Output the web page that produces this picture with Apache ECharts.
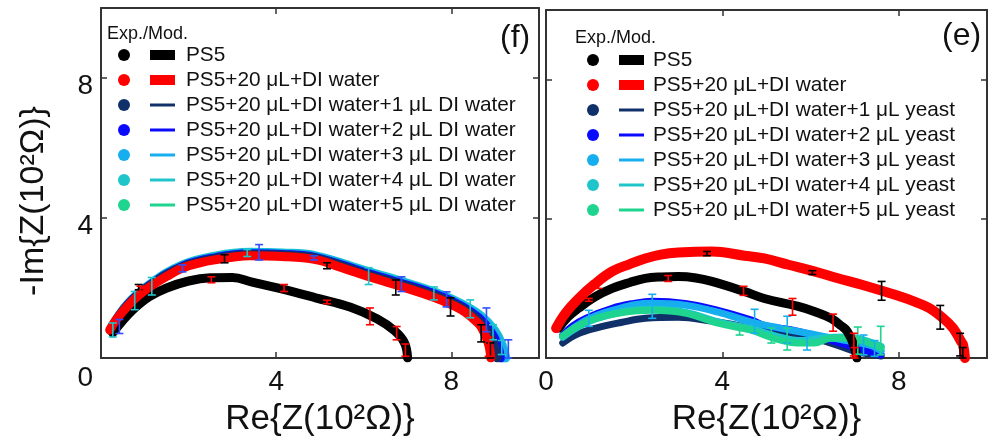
<!DOCTYPE html>
<html>
<head>
<meta charset="utf-8">
<title>Nyquist plots (f) / (e)</title>
<script src="https://cdn.jsdelivr.net/npm/echarts@6/dist/echarts.min.js"></script>
<style>
  html, body { margin: 0; padding: 0; background: #fff; }
  #chart { width: 988px; height: 442px; }
</style>
</head>
<body>
<div id="chart"></div>
<script>
// ── Data (Re, -Im in 10^2 Ohm) ───────────────────────────────────────────────
const xTicks = [0, 4, 8];
const yTicks = [0, 4, 8];

const namesLeft = [
  "PS5",
  "PS5+20 μL+DI water",
  "PS5+20 μL+DI water+1 μL DI water",
  "PS5+20 μL+DI water+2 μL DI water",
  "PS5+20 μL+DI water+3 μL DI water",
  "PS5+20 μL+DI water+4 μL DI water",
  "PS5+20 μL+DI water+5 μL DI water",
];
const namesRight = [
  "PS5",
  "PS5+20 μL+DI water",
  "PS5+20 μL+DI water+1 μL yeast",
  "PS5+20 μL+DI water+2 μL yeast",
  "PS5+20 μL+DI water+3 μL yeast",
  "PS5+20 μL+DI water+4 μL yeast",
  "PS5+20 μL+DI water+5 μL yeast",
];

// panel (f)
const fPS5 = [[0.27,0.72],[0.45,1.0],[0.73,1.38],[1.1,1.75],[1.5,2.0],[2.0,2.2],[2.5,2.29],[3.0,2.3],[3.45,2.17],[4.1,1.98],[4.9,1.72],[5.7,1.45],[6.3,1.12],[6.7,0.78],[6.93,0.43],[7.0,0.0]];
const fDI  = [[0.2,0.8],[0.35,1.1],[0.59,1.46],[0.85,1.78],[1.11,2.03],[1.5,2.33],[1.86,2.57],[2.3,2.73],[2.63,2.81],[3.0,2.88],[3.39,2.92],[4.14,2.9],[4.9,2.81],[5.5,2.58],[6.1,2.33],[6.86,2.04],[7.63,1.72],[8.23,1.38],[8.5,1.12],[8.68,0.89],[8.84,0.43],[8.9,0.0]];
const fDI1 = [[0.21,0.8],[0.6,1.5],[1.12,2.07],[1.86,2.6],[2.63,2.85],[3.39,2.96],[4.14,2.94],[4.9,2.85],[6.1,2.38],[6.86,2.1],[7.63,1.78],[8.23,1.44],[8.6,1.1],[8.85,0.7],[8.98,0.35],[9.05,0.0]];
const fDI2 = [[0.22,0.81],[0.6,1.51],[1.12,2.08],[1.86,2.62],[2.63,2.87],[3.39,2.98],[4.14,2.96],[4.9,2.87],[6.1,2.41],[6.86,2.13],[7.63,1.82],[8.23,1.48],[8.62,1.15],[8.9,0.75],[9.05,0.38],[9.12,0.0]];
const fDI3 = [[0.22,0.82],[0.6,1.52],[1.12,2.1],[1.86,2.64],[2.63,2.89],[3.39,3.0],[4.14,2.98],[4.9,2.9],[6.1,2.44],[6.86,2.16],[7.63,1.85],[8.23,1.52],[8.65,1.18],[8.95,0.78],[9.12,0.4],[9.2,0.0]];
const fDI4 = [[0.22,0.83],[0.6,1.53],[1.12,2.11],[1.86,2.66],[2.63,2.92],[3.39,3.02],[4.14,3.0],[4.9,2.92],[6.1,2.47],[6.86,2.19],[7.63,1.88],[8.23,1.55],[8.68,1.2],[8.98,0.8],[9.15,0.4],[9.24,0.0]];
const fDI5 = [[0.22,0.82],[0.6,1.52],[1.12,2.09],[1.86,2.63],[2.63,2.88],[3.39,2.99],[4.14,2.97],[4.9,2.89],[6.1,2.43],[6.86,2.15],[7.63,1.84],[8.23,1.5],[8.63,1.16],[8.92,0.76],[9.08,0.38],[9.16,0.0]];

// panel (e)
const ePS5 = [[0.29,0.86],[0.5,1.18],[0.74,1.43],[1.1,1.75],[1.5,2.0],[1.9,2.17],[2.25,2.29],[2.6,2.33],[3.0,2.34],[3.4,2.3],[3.76,2.2],[4.5,1.91],[4.95,1.71],[5.7,1.49],[6.1,1.33],[6.46,1.14],[6.7,0.92],[6.83,0.77],[6.98,0.37],[7.05,0.0]];
const eDI  = [[0.23,0.86],[0.45,1.3],[0.74,1.71],[1.1,2.12],[1.5,2.49],[1.9,2.7],[2.25,2.86],[2.6,2.97],[3.0,3.03],[3.76,3.06],[4.5,2.94],[4.95,2.86],[5.5,2.68],[6.08,2.49],[6.6,2.3],[7.2,2.09],[7.95,1.8],[8.4,1.6],[8.7,1.43],[9.0,1.15],[9.23,0.86],[9.4,0.5],[9.46,0.37],[9.5,0.0]];
const eY1  = [[0.38,0.43],[0.7,0.68],[1.13,0.86],[1.7,1.02],[2.25,1.14],[3.0,1.17],[3.76,1.06],[4.2,0.97],[4.66,0.86],[4.95,0.84],[5.7,0.66],[6.1,0.55],[6.46,0.43],[6.98,0.2],[7.3,0.12],[7.6,0.06]];
const eY2  = [[0.38,0.66],[0.6,0.92],[0.9,1.14],[1.5,1.43],[2.0,1.57],[2.4,1.63],[3.15,1.57],[3.9,1.37],[4.66,1.09],[4.95,0.94],[5.7,0.77],[6.3,0.57],[6.83,0.37],[7.2,0.23],[7.6,0.09]];
const eY3  = [[0.38,0.62],[0.9,1.08],[1.5,1.37],[2.4,1.57],[3.15,1.52],[3.9,1.32],[4.66,1.03],[5.3,0.86],[5.9,0.72],[6.5,0.57],[7.0,0.46],[7.4,0.35],[7.6,0.2]];
const eY4  = [[0.38,0.6],[1.13,1.12],[2.4,1.4],[3.15,1.32],[3.9,1.04],[4.66,0.84],[5.3,0.6],[5.8,0.5],[6.3,0.58],[6.8,0.6],[7.2,0.52],[7.6,0.33]];
const eY5  = [[0.38,0.63],[0.7,0.9],[1.13,1.14],[1.7,1.3],[2.4,1.37],[3.15,1.29],[3.9,1.0],[4.66,0.8],[4.95,0.66],[5.3,0.52],[5.7,0.43],[6.08,0.43],[6.46,0.57],[6.83,0.57],[7.2,0.49],[7.6,0.29]];

// error bars: [x, low, high]
const fErrBlack = [[0.86,1.95,2.1],[2.82,2.72,2.95],[5.16,2.55,2.72],[6.73,1.8,2.23],[7.98,1.2,1.72],[8.68,0.46,0.95],[8.89,0.0,0.43]];
const fErrRed   = [[0.9,1.9,2.05],[2.52,2.15,2.32],[4.18,1.9,2.1],[5.16,1.55,1.65],[6.14,0.95,1.43],[6.75,0.52,0.9],[6.95,0.05,0.4],[8.85,0.05,0.6]];
const fErrCyan  = [[0.27,0.6,1.0],[0.77,1.38,1.9],[1.16,1.8,2.3],[3.34,2.9,3.1],[6.11,2.1,2.58],[7.6,1.66,2.03],[8.43,1.15,1.66],[8.95,0.52,0.95],[9.15,0.1,0.5]];
const fErrBlue  = [[0.42,0.7,1.1],[1.86,2.46,2.66],[3.61,2.8,3.24],[4.86,2.8,2.92],[6.86,1.9,2.32],[7.89,1.46,1.89],[8.8,0.75,1.43],[9.3,0.0,0.52]];

const eErrBlack = [[3.65,2.94,3.06],[6.04,2.4,2.51],[7.61,1.66,2.2],[8.94,0.83,1.51],[9.39,0.06,0.71],[9.45,0.0,0.3]];
const eErrRed   = [[0.97,1.63,1.71],[1.19,2.0,2.14],[2.77,2.2,2.37],[4.48,1.8,2.06],[5.59,1.23,1.71],[6.51,0.77,1.26],[6.98,0.06,0.71],[7.0,0.0,0.3]];
const eErrLight = [[0.97,0.91,1.37],[2.41,1.14,1.83],[4.73,0.71,1.4],[5.47,0.43,1.2],[5.92,0.23,0.66],[7.2,0.09,0.66],[7.45,0.05,0.5]];
const eErrGreen = [[4.39,0.66,0.86],[5.11,0.43,0.86],[5.47,0.23,0.86],[7.07,0.11,0.89],[7.59,0.09,0.91]];

// ── Styling ──────────────────────────────────────────────────────────────────
const FONT = "Liberation Sans, Arial, sans-serif";
const C = {
  black: "#000000",
  red: "#ff0000",
  navy: "#10306a",
  blue: "#0a0aff",
  light: "#17aef0",
  cyan: "#1ec6cc",
  green: "#1ed48e",
};
const AXIS = "#333";
const thinIcon = "path://M0,0L25,0L25,3L0,3Z";

const chart = echarts.init(document.getElementById("chart"));

function band(name, data, color, width, idx, z) {
  return {
    name: name,
    type: "line",
    data: data,
    smooth: 0.4,
    showSymbol: false,
    symbol: "none",
    xAxisIndex: idx,
    yAxisIndex: idx,
    color: color,
    lineStyle: { color: color, width: width, cap: "round" },
    z: z,
    silent: true,
  };
}

function errBars(data, color, idx) {
  return {
    type: "custom",
    xAxisIndex: idx,
    yAxisIndex: idx,
    data: data,
    z: 10,
    silent: true,
    encode: { x: 0, y: [1, 2] },
    renderItem: function (params, api) {
      const top = api.coord([api.value(0), api.value(2)]);
      const bot = api.coord([api.value(0), api.value(1)]);
      const w = 4;
      const st = { stroke: color, lineWidth: 1.6 };
      return {
        type: "group",
        children: [
          { type: "line", shape: { x1: top[0], y1: top[1], x2: bot[0], y2: bot[1] }, style: st },
          { type: "line", shape: { x1: top[0] - w, y1: top[1], x2: top[0] + w, y2: top[1] }, style: st },
          { type: "line", shape: { x1: bot[0] - w, y1: bot[1], x2: bot[0] + w, y2: bot[1] }, style: st },
        ],
      };
    },
  };
}

// one side of a panel frame: line + inward ticks at 0, 4, 8
function frameAxis(pos, grid) {
  return {
    type: "value",
    gridIndex: grid,
    position: pos,
    min: 0,
    max: 10,
    interval: 4,
    splitLine: { show: false },
    axisLine: { show: true, onZero: false, lineStyle: { color: AXIS, width: 2 } },
    axisTick: { show: true, inside: true, length: 6, lineStyle: { color: AXIS, width: 1.5 } },
    axisLabel: { show: false },
  };
}

const tickText = (v, hideZero) =>
  xTicks.indexOf(v) < 0 || (hideZero && v === 0) ? "" : String(v);

// bottom x axes
const xBottomLeft = frameAxis("bottom", 0);
xBottomLeft.axisLabel = {
  show: true, fontFamily: FONT, fontSize: 28, color: "#111", margin: 10,
  showMaxLabel: false,
  formatter: (v) => tickText(v, true),
};
xBottomLeft.name = "Re{Z(10²Ω)}";
xBottomLeft.nameLocation = "middle";
xBottomLeft.nameGap = 44;
xBottomLeft.nameTextStyle = { fontFamily: FONT, fontSize: 35, color: "#111" };

const xBottomRight = frameAxis("bottom", 1);
xBottomRight.axisLabel = {
  show: true, fontFamily: FONT, fontSize: 28, color: "#111", margin: 10,
  showMaxLabel: false,
  formatter: (v) => tickText(v, false),
};
xBottomRight.name = "Re{Z(10²Ω)}";
xBottomRight.nameLocation = "middle";
xBottomRight.nameGap = 44;
xBottomRight.nameTextStyle = { fontFamily: FONT, fontSize: 35, color: "#111" };

const yLeftLeft = frameAxis("left", 0);
yLeftLeft.axisLabel = {
  show: true, fontFamily: FONT, fontSize: 28, color: "#111", margin: 8,
  showMaxLabel: false,
  formatter: (v) => (yTicks.indexOf(v) < 0 ? "" : v === 0 ? "{z|0}" : "{n|" + v + "}"),
  rich: {
    n: { fontFamily: FONT, fontSize: 28, color: "#111", padding: [16, 0, 0, 0] },
    z: { fontFamily: FONT, fontSize: 28, color: "#111", padding: [40, 0, 0, 0] },
  },
};
yLeftLeft.name = "-Im{Z(10²Ω)}";
yLeftLeft.nameLocation = "middle";
yLeftLeft.nameGap = 50;
yLeftLeft.nameTextStyle = { fontFamily: FONT, fontSize: 34, color: "#111", padding: [0, 36, 0, 0] };

const option = {
  animation: false,
  backgroundColor: "#fff",
  grid: [
    { left: 101, top: 8, width: 438, height: 350 },
    { left: 546, top: 10, width: 441, height: 350 },
  ],
  title: [
    { text: "Exp./Mod.", left: 107, top: 25, padding: 0, textStyle: { fontFamily: FONT, fontSize: 18, fontWeight: "normal", color: "#111" } },
    { text: "(f)", left: 500, top: 22, padding: 0, textStyle: { fontFamily: FONT, fontSize: 32, fontWeight: "normal", color: "#111" } },
    { text: "Exp./Mod.", left: 575, top: 29, padding: 0, textStyle: { fontFamily: FONT, fontSize: 18, fontWeight: "normal", color: "#111" } },
    { text: "(e)", left: 942, top: 20, padding: 0, textStyle: { fontFamily: FONT, fontSize: 32, fontWeight: "normal", color: "#111" } },
  ],
  legend: [
    {
      // experimental markers (left)
      orient: "vertical", left: 118, top: 42.5, itemWidth: 12, itemHeight: 12, itemGap: 0, padding: 0,
      selectedMode: false, formatter: () => " ",
      itemStyle: { borderWidth: 0 },
      textStyle: { fontFamily: FONT, fontSize: 20.8, lineHeight: 25 },
      data: namesLeft.map((n) => ({ name: n, icon: "circle" })),
    },
    {
      // model lines (left)
      orient: "vertical", left: 150, top: 42.5, itemWidth: 25, itemHeight: 10, itemGap: 0, itemTextGap: 6, padding: 0,
      selectedMode: false,
      itemStyle: { borderWidth: 0 },
      textStyle: { fontFamily: FONT, fontSize: 20.8, lineHeight: 25, color: "#111", padding: [0, 0, 0, 6] },
      data: namesLeft.map((n, i) => ({ name: n, icon: i < 2 ? "rect" : thinIcon })),
    },
    {
      orient: "vertical", left: 587, top: 47.5, itemWidth: 12, itemHeight: 12, itemGap: 0, padding: 0,
      selectedMode: false, formatter: () => " ",
      itemStyle: { borderWidth: 0 },
      textStyle: { fontFamily: FONT, fontSize: 20.8, lineHeight: 25 },
      data: namesRight.map((n) => ({ name: n, icon: "circle" })),
    },
    {
      orient: "vertical", left: 619, top: 47.5, itemWidth: 25, itemHeight: 10, itemGap: 0, itemTextGap: 6, padding: 0,
      selectedMode: false,
      itemStyle: { borderWidth: 0 },
      textStyle: { fontFamily: FONT, fontSize: 20.8, lineHeight: 25, color: "#111", padding: [0, 0, 0, 4] },
      data: namesRight.map((n, i) => ({ name: n, icon: i < 2 ? "rect" : thinIcon })),
    },
  ],
  xAxis: [
    xBottomLeft,
    frameAxis("top", 0),
    xBottomRight,
    frameAxis("top", 1),
  ],
  yAxis: [
    yLeftLeft,
    frameAxis("right", 0),
    frameAxis("left", 1),
    frameAxis("right", 1),
  ],
  series: [
    // panel (f)
    band(namesLeft[6], fDI5, C.green, 9, 0, 1),
    band(namesLeft[5], fDI4, C.cyan, 9, 0, 2),
    band(namesLeft[4], fDI3, C.light, 9, 0, 3),
    band(namesLeft[3], fDI2, C.blue, 9, 0, 4),
    band(namesLeft[2], fDI1, C.navy, 9, 0, 4),
    band(namesLeft[0], fPS5, C.black, 9, 0, 5),
    band(namesLeft[1], fDI, C.red, 9, 0, 6),
    errBars(fErrCyan, C.cyan, 0),
    errBars(fErrBlue, "#3050ff", 0),
    errBars(fErrBlack, C.black, 0),
    errBars(fErrRed, C.red, 0),
    // panel (e)
    band(namesRight[2], eY1, C.navy, 7, 2, 1),
    band(namesRight[3], eY2, C.blue, 7, 2, 2),
    band(namesRight[4], eY3, C.light, 7, 2, 3),
    band(namesRight[5], eY4, C.cyan, 7, 2, 3),
    band(namesRight[6], eY5, C.green, 7, 2, 4),
    band(namesRight[0], ePS5, C.black, 9, 2, 5),
    band(namesRight[1], eDI, C.red, 10, 2, 6),
    errBars(eErrLight, C.light, 2),
    errBars(eErrGreen, C.green, 2),
    errBars(eErrBlack, C.black, 2),
    errBars(eErrRed, C.red, 2),
  ],
};

chart.setOption(option);
window.addEventListener("resize", () => chart.resize());
</script>
</body>
</html>
